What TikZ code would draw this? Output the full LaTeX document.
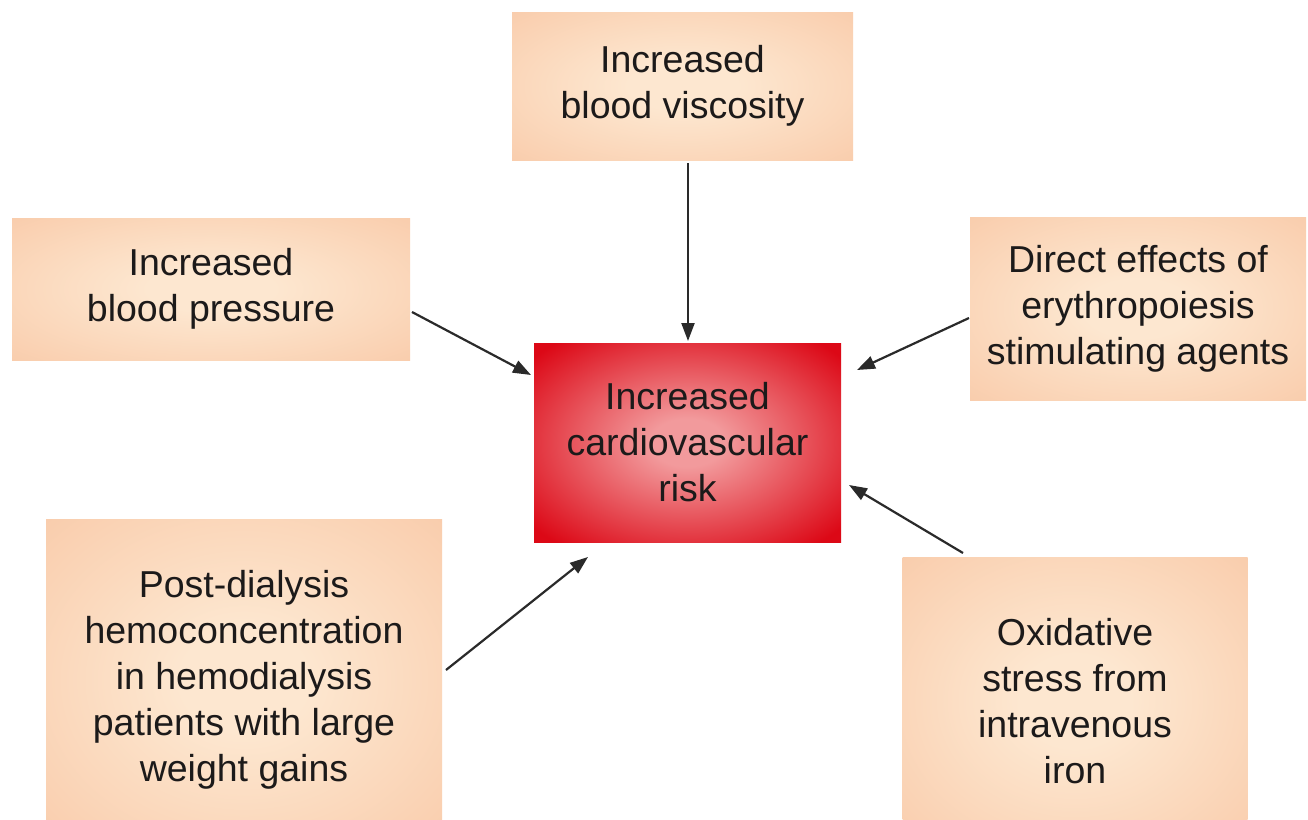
\documentclass[tikz,border=0pt]{standalone}
\usepackage{fontspec}
\setmainfont{Liberation Sans}
\usetikzlibrary{arrows.meta}
\definecolor{peachedge}{HTML}{F7BF9A}
\definecolor{peachmid}{HTML}{FDE7D0}
\definecolor{rededge}{HTML}{DC0816}
\definecolor{redmid}{HTML}{F29A9C}
\definecolor{inkc}{HTML}{1C1A1A}
\definecolor{arrowc}{HTML}{2A2A2A}
\pgfdeclareradialshading{peachshade}{\pgfpoint{0bp}{0bp}}{color(0bp)=(peachmid); color(8bp)=(peachmid); color(50bp)=(peachedge); color(80bp)=(peachedge)}
\pgfdeclareradialshading{redshade}{\pgfpoint{0bp}{0bp}}{color(0bp)=(redmid); color(6bp)=(redmid); color(33bp)=(rededge); color(80bp)=(rededge)}
\tikzset{
  box/.style={inner sep=0pt, align=center, text=inkc,
    font=\fontsize{37.5}{46}\selectfont},
  peachbox/.style={box, shading=peachshade},
  redbox/.style={box, shading=redshade},
  arr/.style={draw=arrowc, line width=2.2pt,
    -{Triangle[length=18pt,width=13pt]}}
}
\begin{document}
\begin{tikzpicture}[x=1pt,y=-1pt]
\useasboundingbox (0,0) rectangle (1308,819);
\clip (0,0) rectangle (1308,819);
\fill[white] (0,0) rectangle (1308,819);
% boxes
\node[peachbox, minimum width=341pt, minimum height=148pt] (visc) at (682.5,86) {Increased\\blood viscosity};
\node[peachbox, minimum width=398pt, minimum height=142pt] (bp) at (211,289) {Increased\\blood pressure};
\node[peachbox, minimum width=336pt, minimum height=183pt] (esa) at (1138,308.5) {Direct effects of\\erythropoiesis\\stimulating agents};
\node[redbox, minimum width=307pt, minimum height=199pt] (cv) at (687.5,442.5) {Increased\\cardiovascular\\risk};
\node[peachbox, minimum width=396pt, minimum height=322pt] (pd) at (244,680) {Post-dialysis\\hemoconcentration\\in hemodialysis\\patients with large\\weight gains};
\node[peachbox, minimum width=345pt, minimum height=288pt] (ox) at (1075,701) {Oxidative\\stress from\\intravenous\\iron};
% connector end points
\coordinate (a1s) at (688,163);
\coordinate (a1e) at (688,341);
\coordinate (a2s) at (412,312);
\coordinate (a2e) at (531,375);
\coordinate (a3s) at (969,318);
\coordinate (a3e) at (857,370);
\coordinate (a4s) at (446,670);
\coordinate (a4e) at (588,557);
\coordinate (a5s) at (963,553);
\coordinate (a5e) at (849,485);
\draw[arr] (a1s) -- (a1e);
\draw[arr] (a2s) -- (a2e);
\draw[arr] (a3s) -- (a3e);
\draw[arr] (a4s) -- (a4e);
\draw[arr] (a5s) -- (a5e);
\end{tikzpicture}
\end{document}
